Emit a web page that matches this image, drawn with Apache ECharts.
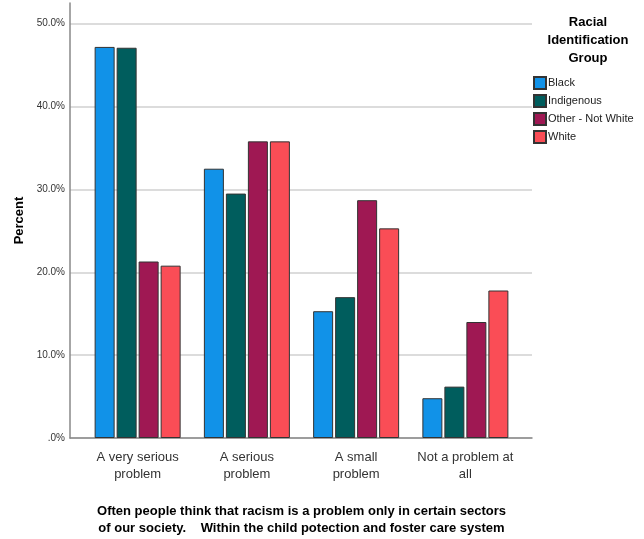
<!DOCTYPE html>
<html><head><meta charset="utf-8">
<script src="https://cdn.jsdelivr.net/npm/echarts@6/dist/echarts.min.js"></script>
<style>html,body{margin:0;padding:0;background:#fff}#c{width:644px;height:539px}</style>
</head><body><div id="c"></div>
<script>
const categories = ['A very serious\nproblem', 'A serious\nproblem', 'A small\nproblem', 'Not a problem at\nall'];
const seriesNames = ['Black', 'Indigenous', 'Other - Not White', 'White'];
const black = [47.2, 32.5, 15.3, 4.8];
const indigenous = [47.1, 29.5, 17.0, 6.2];
const otherNotWhite = [21.3, 35.8, 28.7, 14.0];
const white = [20.8, 35.8, 25.3, 17.8];
const yTicks = [0, 10, 20, 30, 40, 50];

const colors = ['#1192E8', '#005D5D', '#9F1853', '#FA4D56'];
const values = [black, indigenous, otherNotWhite, white];
const font = 'Arial, "Liberation Sans", sans-serif';
const yMax = 52.5;

const chart = echarts.init(document.getElementById('c'));
chart.setOption({
  animation: false,
  textStyle: { fontFamily: font },
  title: {
    text: 'Racial\nIdentification\nGroup',
    left: 583, top: 8, textAlign: 'center',
    textStyle: { fontFamily: font, fontSize: 13, fontWeight: 'bold', color: '#000', lineHeight: 18 }
  },
  legend: {
    orient: 'vertical', left: 528, top: 71,
    itemWidth: 12, itemHeight: 12, itemGap: 4,
    icon: 'rect',
    data: seriesNames,
    textStyle: { fontFamily: font, fontSize: 11, color: '#222', padding: [0, 0, 0, -3] }
  },
  grid: [
    { left: 70, right: 112, top: 3, bottom: 101, containLabel: false, outerBoundsMode: 'none' },
    { left: 83, width: 437, top: 3, bottom: 101, containLabel: false, outerBoundsMode: 'none' }
  ],
  xAxis: [
    { type: 'category', gridIndex: 0, data: categories,
      axisLine: { show: true, lineStyle: { color: '#888', width: 1.5 } },
      axisTick: { show: false }, axisLabel: { show: false } },
    { type: 'category', gridIndex: 1, data: categories,
      axisLine: { show: false }, axisTick: { show: false },
      axisLabel: { interval: 0, fontFamily: font, fontSize: 13, color: '#333', lineHeight: 17, margin: 11 },
      name: 'Often people think that racism is a problem only in certain sectors\nof our society.    Within the child potection and foster care system',
      nameLocation: 'middle', nameGap: 65,
      nameTextStyle: { fontFamily: font, fontSize: 13, fontWeight: 'bold', color: '#000', lineHeight: 17 } }
  ],
  yAxis: [
    { type: 'value', gridIndex: 0, min: 0, max: yMax, interval: 10,
      axisLine: { show: true, lineStyle: { color: '#888', width: 1.5 } },
      axisTick: { show: false },
      splitLine: { show: true, showMaxLine: false, lineStyle: { color: '#d0d0d0', width: 1.5 } },
      axisLabel: { showMaxLabel: false, fontFamily: font, fontSize: 10, color: '#333', margin: 5,
        formatter: v => yTicks.includes(v) ? (v === 0 ? '.0%' : v.toFixed(1) + '%') : '' },
      name: 'Percent', nameLocation: 'middle', nameRotate: 90, nameGap: 42,
      nameTextStyle: { fontFamily: font, fontSize: 13, fontWeight: 'bold', color: '#000' } },
    { type: 'value', gridIndex: 1, min: 0, max: yMax, interval: 10, show: false,
      splitLine: { show: false } }
  ],
  series: seriesNames.map((n, i) => ({
    name: n, type: 'bar', xAxisIndex: 1, yAxisIndex: 1,
    data: values[i], barWidth: 20, barGap: '10%',
    itemStyle: { color: colors[i], borderColor: '#333', borderWidth: 1 }
  }))
});
</script></body></html>
